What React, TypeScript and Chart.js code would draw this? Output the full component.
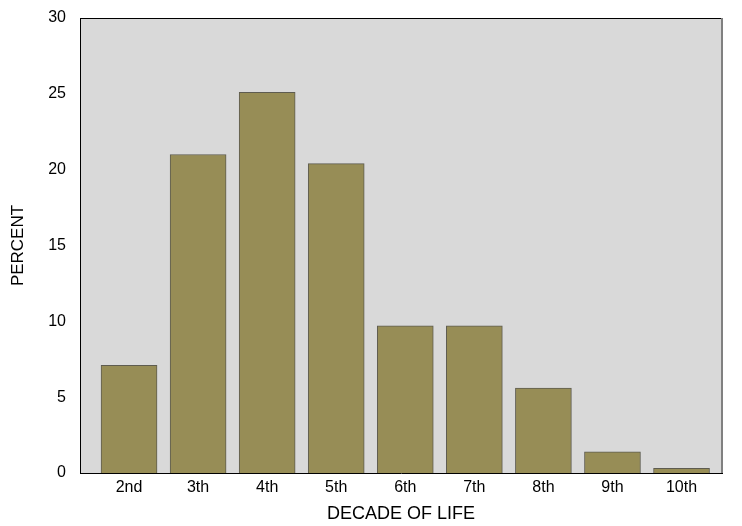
import React, { useEffect, useRef } from "react";
import { Chart, registerables } from "chart.js";

Chart.register(...registerables);

const categories = ["2nd", "3th", "4th", "5th", "6th", "7th", "8th", "9th", "10th"];
const percentValues = [7.1, 21.0, 25.1, 20.4, 9.7, 9.7, 5.6, 1.4, 0.3];
const yTicks = [0, 5, 10, 15, 20, 25, 30];

const plotFrame = {
  id: "plotFrame",
  beforeDraw(chart: any) {
    const { ctx, chartArea } = chart;
    ctx.save();
    ctx.fillStyle = "#d9d9d9";
    ctx.fillRect(chartArea.left, chartArea.top, chartArea.right - chartArea.left, chartArea.bottom - chartArea.top);
    ctx.restore();
  },
  afterDraw(chart: any) {
    const { ctx, chartArea } = chart;
    ctx.save();
    ctx.strokeStyle = "#000";
    ctx.lineWidth = 1;
    ctx.beginPath();
    ctx.moveTo(chartArea.left, chartArea.top + 0.5);
    ctx.lineTo(chartArea.right, chartArea.top + 0.5);
    ctx.stroke();
    ctx.strokeStyle = "#808080";
    ctx.lineWidth = 2;
    ctx.beginPath();
    ctx.moveTo(chartArea.right, chartArea.top);
    ctx.lineTo(chartArea.right, chartArea.bottom);
    ctx.stroke();
    ctx.restore();
  },
};

export default function App() {
  const canvasRef = useRef<HTMLCanvasElement | null>(null);

  useEffect(() => {
    document.body.style.margin = "0";
    const canvas = canvasRef.current;
    if (!canvas) return;
    const chart = new Chart(canvas, {
      type: "bar",
      data: {
        datasets: [
          {
            data: percentValues.map((v, i) => ({ x: i, y: v })),
            backgroundColor: "#978d56",
            borderColor: "#5e5c50",
            borderWidth: 1,
            barThickness: 56,
          },
        ],
      },
      options: {
        animation: false,
        responsive: false,
        devicePixelRatio: 1,
        layout: { padding: { top: 18, right: 20, left: 0, bottom: 0 } },
        plugins: { legend: { display: false }, tooltip: { enabled: false } },
        scales: {
          x: {
            type: "linear",
            offset: false,
            min: -0.71,
            max: 8.586,
            grid: { display: false, drawTicks: false, offset: false },
            border: { display: true, color: "#000", width: 1 },
            afterFit: (scale: any) => {
              scale.height = 53;
              scale.paddingLeft = 0;
              scale.paddingRight = 0;
            },
            ticks: {
              stepSize: 1,
              includeBounds: false,
              autoSkip: false,
              maxRotation: 0,
              padding: 5,
              color: "#000",
              font: { family: "Liberation Sans, Arial, sans-serif", size: 16 },
              callback: (v: any) => (Number.isInteger(v) && categories[v] !== undefined ? categories[v] : ""),
            },
            title: {
              display: true,
              text: "DECADE OF LIFE",
              color: "#000",
              font: { family: "Liberation Sans, Arial, sans-serif", size: 18 },
              padding: { top: 0, bottom: 1 },
            },
          },
          y: {
            min: 0,
            max: 30,
            grid: { display: false, drawTicks: false },
            border: { display: true, color: "#000", width: 1 },
            afterFit: (scale: any) => {
              scale.width = 80;
              scale.paddingTop = 0;
              scale.paddingBottom = 0;
            },
            afterBuildTicks: (scale: any) => {
              scale.ticks = yTicks.map((v) => ({ value: v }));
            },
            ticks: {
              padding: 14,
              color: "#000",
              font: { family: "Liberation Sans, Arial, sans-serif", size: 16 },
            },
            title: {
              display: true,
              text: "PERCENT",
              color: "#000",
              font: { family: "Liberation Sans, Arial, sans-serif", size: 17 },
              padding: { top: 8, bottom: 0 },
            },
          },
        },
      },
      plugins: [plotFrame],
    });
    return () => chart.destroy();
  }, []);

  return (
    <div style={{ width: 742, height: 526 }}>
      <canvas ref={canvasRef} width={742} height={526} style={{ display: "block" }} />
    </div>
  );
}
